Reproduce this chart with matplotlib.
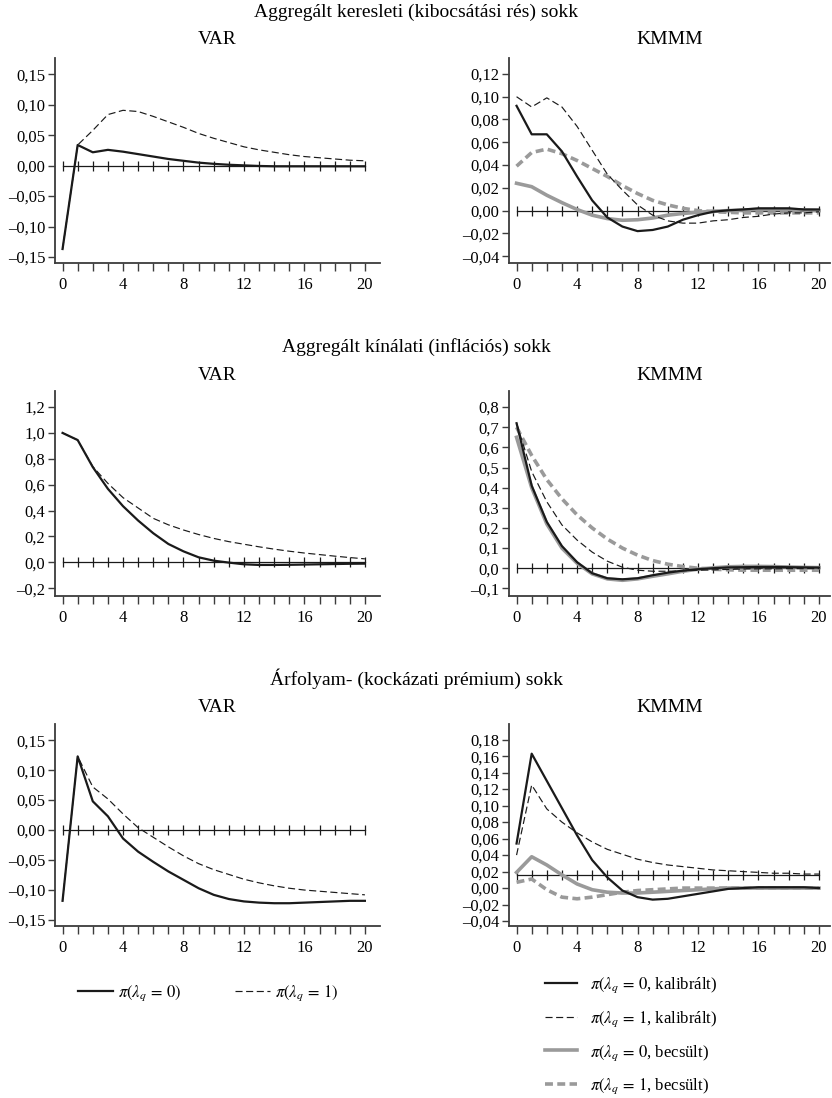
import numpy as np
import matplotlib
matplotlib.use("Agg")
import matplotlib.pyplot as plt
from matplotlib.lines import Line2D
from matplotlib.ticker import FuncFormatter

plt.rcParams["font.family"] = ["Liberation Serif", "DejaVu Serif"]
plt.rcParams["mathtext.fontset"] = "stix"

# ── Data ──────────────────────────────────────────────────────────────────────
HORIZON = list(range(21))

SHOCKS = [
    "Aggregált keresleti (kibocsátási rés) sokk",
    "Aggregált kínálati (inflációs) sokk",
    "Árfolyam- (kockázati prémium) sokk",
]

# VAR, demand shock
var_dem_l0 = [-0.137, 0.034, 0.022, 0.026, 0.023, 0.019, 0.015, 0.011, 0.008, 0.005, 0.003,
              0.0015, 0.0005, -0.0005, -0.001, -0.001, -0.001, -0.001, -0.001, -0.001, -0.001]
var_dem_l1 = [-0.137, 0.034, 0.058, 0.084, 0.091, 0.089, 0.081, 0.072, 0.063, 0.053, 0.045,
              0.038, 0.031, 0.026, 0.022, 0.018, 0.015, 0.013, 0.011, 0.009, 0.008]

# KMMM, demand shock
kmmm_dem_l0_cal = [0.092, 0.067, 0.067, 0.052, 0.030, 0.009, -0.006, -0.014, -0.018, -0.017, -0.014,
                   -0.008, -0.004, -0.001, 0.0003, 0.001, 0.002, 0.002, 0.002, 0.001, 0.001]
kmmm_dem_l1_cal = [0.100, 0.091, 0.099, 0.091, 0.074, 0.053, 0.032, 0.018, 0.005, -0.004, -0.009,
                   -0.011, -0.011, -0.009, -0.008, -0.006, -0.005, -0.003, -0.002, -0.002, -0.001]
kmmm_dem_l0_est = [0.024, 0.021, 0.0135, 0.007, 0.001, -0.004, -0.007, -0.0085, -0.008, -0.0065, -0.004,
                   -0.0025, -0.0015, -0.0005, 0.0, 0.0005, 0.001, 0.001, 0.001, 0.0005, 0.0]
kmmm_dem_l1_est = [0.039, 0.051, 0.054, 0.050, 0.044, 0.037, 0.030, 0.022, 0.015, 0.009, 0.005,
                   0.002, 0.0, -0.001, -0.0015, -0.002, -0.002, -0.002, -0.002, -0.002, -0.002]

# VAR, supply shock
var_sup_l0 = [1.0, 0.945, 0.736, 0.568, 0.434, 0.323, 0.225, 0.142, 0.085, 0.039, 0.013,
              -0.002, -0.015, -0.02, -0.02, -0.019, -0.017, -0.015, -0.013, -0.011, -0.01]
var_sup_l1 = [1.0, 0.945, 0.74, 0.61, 0.50, 0.42, 0.34, 0.29, 0.25, 0.215, 0.185,
              0.16, 0.14, 0.12, 0.102, 0.086, 0.072, 0.06, 0.048, 0.037, 0.027]

# KMMM, supply shock
kmmm_sup_l0_cal = [0.72, 0.41, 0.23, 0.11, 0.03, -0.025, -0.05, -0.055, -0.05, -0.035, -0.022,
                   -0.012, -0.005, 0.0, 0.004, 0.005, 0.006, 0.006, 0.005, 0.004, 0.003]
kmmm_sup_l1_cal = [0.72, 0.48, 0.33, 0.215, 0.14, 0.08, 0.035, 0.005, -0.01, -0.015, -0.015,
                   -0.013, -0.01, -0.008, -0.006, -0.004, -0.003, -0.003, -0.002, -0.002, -0.002]
kmmm_sup_l0_est = [0.65, 0.40, 0.22, 0.10, 0.025, -0.028, -0.053, -0.06, -0.053, -0.04, -0.028,
                   -0.015, -0.005, 0.002, 0.007, 0.009, 0.009, 0.008, 0.006, 0.004, 0.003]
kmmm_sup_l1_est = [0.70, 0.56, 0.44, 0.345, 0.265, 0.20, 0.145, 0.10, 0.065, 0.038, 0.02,
                   0.008, 0.0, -0.005, -0.008, -0.01, -0.01, -0.01, -0.01, -0.01, -0.01]

# VAR, exchange-rate shock
var_fx_l0 = [-0.118, 0.123, 0.048, 0.023, -0.014, -0.036, -0.053, -0.069, -0.083, -0.097, -0.108,
             -0.115, -0.119, -0.121, -0.122, -0.122, -0.121, -0.120, -0.119, -0.118, -0.118]
var_fx_l1 = [-0.118, 0.123, 0.072, 0.052, 0.027, 0.004, -0.012, -0.028, -0.043, -0.056, -0.066,
             -0.074, -0.082, -0.088, -0.093, -0.097, -0.100, -0.102, -0.104, -0.106, -0.108]

# KMMM, exchange-rate shock
kmmm_fx_l0_cal = [0.054, 0.163, 0.130, 0.097, 0.064, 0.034, 0.013, -0.003, -0.011, -0.014, -0.013,
                  -0.010, -0.007, -0.004, -0.001, 0.0, 0.001, 0.001, 0.001, 0.001, 0.0]
kmmm_fx_l1_cal = [0.040, 0.125, 0.096, 0.080, 0.067, 0.056, 0.047, 0.041, 0.035, 0.031, 0.028,
                  0.026, 0.024, 0.022, 0.021, 0.020, 0.019, 0.018, 0.018, 0.017, 0.017]
kmmm_fx_l0_est = [0.019, 0.038, 0.028, 0.016, 0.005, -0.002, -0.005, -0.006, -0.006, -0.005, -0.004,
                  -0.003, -0.002, -0.001, 0.0, 0.0, 0.0, 0.0, 0.0, 0.0, 0.0]
kmmm_fx_l1_est = [0.007, 0.011, -0.002, -0.011, -0.013, -0.011, -0.008, -0.005, -0.003, -0.002, -0.001,
                  0.0, 0.0, 0.0, 0.0, 0.0, 0.0, 0.0, 0.0, 0.0, 0.0]

# horizontal reference line level in each panel (last panel is offset in original)
REF_LEVEL = [0.0, 0.0, 0.0, 0.0, 0.0, 0.016]

VAR_LABELS = [r"$\pi(\lambda_q\,=\,0)$", r"$\pi(\lambda_q\,=\,1)$"]
KMMM_LABELS = [r"$\pi(\lambda_q\,=\,0$, kalibrált)", r"$\pi(\lambda_q\,=\,1$, kalibrált)",
               r"$\pi(\lambda_q\,=\,0$, becsült)", r"$\pi(\lambda_q\,=\,1$, becsült)"]

# ── Styles ────────────────────────────────────────────────────────────────────
GREY = "#9a9a9a"
SPINE = "#3c3c3c"
STY_BLACK = dict(color="#1a1a1a", lw=1.6, ls="-")
STY_BLACK_D = dict(color="#1a1a1a", lw=0.85, ls=(0, (6, 3)))
STY_GREY = dict(color=GREY, lw=2.6, ls="-")
STY_GREY_D = dict(color=GREY, lw=2.6, ls=(0, (2.2, 1.2)))

var_panels = [(var_dem_l0, var_dem_l1), (var_sup_l0, var_sup_l1), (var_fx_l0, var_fx_l1)]
kmmm_panels = [
    (kmmm_dem_l0_cal, kmmm_dem_l1_cal, kmmm_dem_l0_est, kmmm_dem_l1_est),
    (kmmm_sup_l0_cal, kmmm_sup_l1_cal, kmmm_sup_l0_est, kmmm_sup_l1_est),
    (kmmm_fx_l0_cal, kmmm_fx_l1_cal, kmmm_fx_l0_est, kmmm_fx_l1_est),
]

YTICKS = [
    ([-0.15, -0.10, -0.05, 0.0, 0.05, 0.10, 0.15], (-0.160, 0.177), 2),
    ([-0.04, -0.02, 0.0, 0.02, 0.04, 0.06, 0.08, 0.10, 0.12], (-0.046, 0.134), 2),
    ([-0.2, 0.0, 0.2, 0.4, 0.6, 0.8, 1.0, 1.2], (-0.26, 1.324), 1),
    ([-0.1, 0.0, 0.1, 0.2, 0.3, 0.4, 0.5, 0.6, 0.7, 0.8], (-0.138, 0.88), 1),
    ([-0.15, -0.10, -0.05, 0.0, 0.05, 0.10, 0.15], (-0.160, 0.177), 2),
    ([-0.04, -0.02, 0.0, 0.02, 0.04, 0.06, 0.08, 0.10, 0.12, 0.14, 0.16, 0.18], (-0.046, 0.199), 2),
]

W, H = 832, 1098
fig = plt.figure(figsize=(W / 100, H / 100), dpi=100)
fig.patch.set_facecolor("white")

# pixel boxes (top, bottom) per row; (left, right) per column
ROWS = [(58, 263), (391, 596), (724, 926)]
COLS = [(55, 380), (509, 830)]
TITLE_Y = [12, 347, 679]
SUB_Y = [40, 375, 707]


def fmt(dec):
    def f(v, _):
        s = f"{v:.{dec}f}".replace(".", ",")
        return s.replace("-", "\u2013")
    return FuncFormatter(f)


def style_axes(ax, idx):
    ticks, ylim, dec = YTICKS[idx]
    for s in ("top", "right"):
        ax.spines[s].set_visible(False)
    for s in ("left", "bottom"):
        ax.spines[s].set_color(SPINE)
        ax.spines[s].set_linewidth(1.3)
    ax.set_xticks(HORIZON)
    ax.set_xticklabels([str(h) if h % 4 == 0 else "" for h in HORIZON])
    ax.set_yticks(ticks)
    ax.set_ylim(*ylim)
    ax.yaxis.set_major_formatter(fmt(dec))
    ax.tick_params(axis="x", length=6, width=1, color=SPINE, pad=4, labelsize=12)
    ax.tick_params(axis="y", length=5, width=1, color=SPINE, pad=2, labelsize=12)
    ref = REF_LEVEL[idx]
    ax.plot(HORIZON, [ref] * len(HORIZON), color="#1a1a1a", lw=0.9,
            marker="|", ms=7, mew=0.9, zorder=1)


axes = []
for r, (top, bot) in enumerate(ROWS):
    for c, (lft, rgt) in enumerate(COLS):
        ax = fig.add_axes([lft / W, 1 - bot / H, (rgt - lft) / W, (bot - top) / H])
        axes.append(ax)
        idx = r * 2 + c
        style_axes(ax, idx)
        if c == 0:
            l0, l1 = var_panels[r]
            ax.plot(HORIZON, l1, zorder=3, **STY_BLACK_D)
            ax.plot(HORIZON, l0, zorder=4, **STY_BLACK)
            ax.set_xlim(-0.5, 21.0)
        else:
            c0, c1, e0, e1 = kmmm_panels[r]
            ax.plot(HORIZON, e1, zorder=2, **STY_GREY_D)
            ax.plot(HORIZON, e0, zorder=2, **STY_GREY)
            ax.plot(HORIZON, c1, zorder=3, **STY_BLACK_D)
            ax.plot(HORIZON, c0, zorder=4, **STY_BLACK)
            ax.set_xlim(-0.5, 20.73)
        fig.text((lft + rgt) / 2 / W, 1 - SUB_Y[r] / H, "VAR" if c == 0 else "KMMM",
                 ha="center", va="center", fontsize=14)
    fig.text(0.5, 1 - TITLE_Y[r] / H, SHOCKS[r], ha="center", va="center", fontsize=14)

# ── Legends ───────────────────────────────────────────────────────────────────
h_var = [Line2D([], [], **STY_BLACK), Line2D([], [], **STY_BLACK_D)]
fig.legend(h_var, VAR_LABELS, loc="center", bbox_to_anchor=(208 / W, 1 - 993 / H),
           ncol=2, frameon=False, fontsize=12, handlelength=2.1, handletextpad=0.3,
           columnspacing=3.2)

h_kmmm = [Line2D([], [], **STY_BLACK), Line2D([], [], **STY_BLACK_D),
          Line2D([], [], **STY_GREY), Line2D([], [], **STY_GREY_D)]
fig.legend(h_kmmm, KMMM_LABELS, loc="center left", bbox_to_anchor=(535 / W, 1 - 1036 / H),
           ncol=1, frameon=False, fontsize=12, handlelength=1.9, handletextpad=0.8,
           labelspacing=0.85, borderaxespad=0.2)

fig.savefig("out.png", dpi=100, facecolor="white")
